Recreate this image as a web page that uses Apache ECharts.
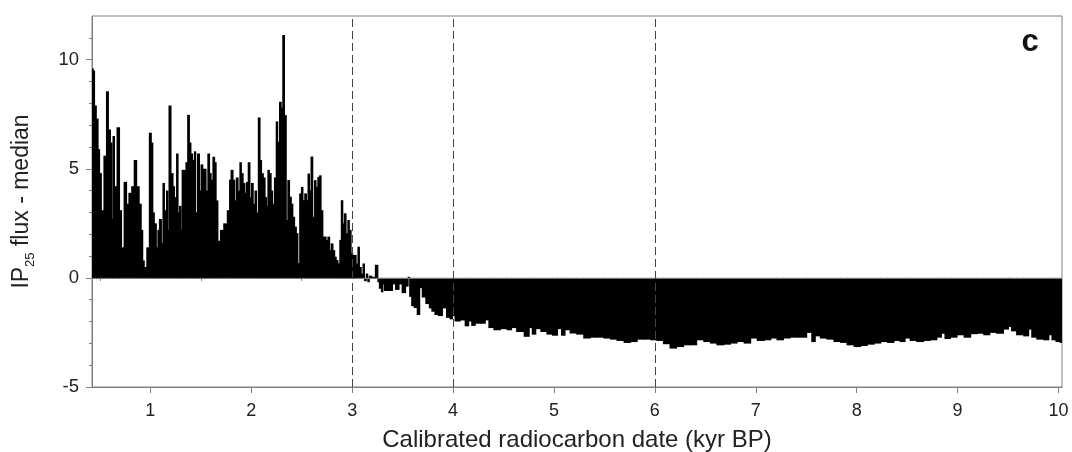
<!DOCTYPE html>
<html>
<head>
<meta charset="utf-8">
<script src="https://cdn.jsdelivr.net/npm/echarts@6/dist/echarts.min.js"></script>
<style>html,body{margin:0;padding:0;background:#fff;}#c{width:1072px;height:452px;}</style>
</head>
<body>
<div id="c"></div>
<script>
// Calibrated radiocarbon date (kyr BP)
const ages = [
0.425,0.43,0.44,0.455,0.475,0.49,0.505,0.525,0.555,0.575,0.595,0.615,0.625,0.635,0.655,0.685,0.705,0.725,0.755,0.775,
0.80,0.83,0.85,0.88,0.90,0.92,0.93,0.95,0.98,1.00,1.02,1.03,1.05,1.07,1.08,1.10,1.12,1.13,1.15,1.17,
1.18,1.19,1.22,1.23,1.25,1.27,1.28,1.30,1.31,1.32,1.345,1.36,1.38,1.395,1.41,1.43,1.445,1.455,1.48,1.495,
1.51,1.53,1.545,1.56,1.58,1.595,1.61,1.63,1.645,1.66,1.68,1.71,1.745,1.78,1.79,1.81,1.83,1.845,1.86,1.88,
1.895,1.91,1.93,1.945,1.96,1.98,1.995,2.01,2.03,2.045,2.06,2.08,2.095,2.11,2.13,2.145,2.16,2.17,2.19,2.205,
2.22,2.24,2.255,2.27,2.29,2.305,2.32,2.34,2.355,2.37,2.39,2.405,2.42,2.44,2.455,2.47,2.49,2.505,2.52,2.54,
2.555,2.57,2.585,2.60,2.62,2.635,2.65,2.67,2.685,2.70,2.72,2.735,2.75,2.77,2.785,2.80,2.82,2.835,2.85,2.87,
2.885,2.90,2.915,2.93,2.95,2.965,2.98,3.00,3.015,3.03,3.05,3.065,3.08,3.10,3.115,
3.13,3.15,3.16,3.18,3.21,3.25,3.26,3.28,3.30,3.31,3.33,3.36,3.39,3.41,3.45,3.48,3.51,3.55,3.56,3.58,
3.60,3.63,3.66,3.68,3.71,3.75,3.78,3.80,3.84,3.87,3.92,3.95,3.99,4.00,4.04,4.10,4.14,4.17,4.20,4.24,
4.30,4.34,4.37,4.44,4.50,4.57,4.59,4.67,4.74,4.77,4.80,4.84,4.90,4.96,5.01,5.06,5.09,5.13,5.19,5.26,
5.33,5.39,5.46,5.53,5.59,5.66,5.73,5.79,5.86,5.93,5.99,6.05,6.12,6.18,6.25,6.32,6.38,6.45,6.52,6.58,
6.65,6.72,6.78,6.85,6.92,6.98,7.05,7.12,7.18,7.24,7.31,7.37,7.47,7.54,7.57,7.61,7.67,7.74,7.81,7.87,
7.94,8.01,8.07,8.14,8.21,8.27,8.34,8.40,8.46,8.50,8.56,8.63,8.70,8.76,8.83,8.85,8.90,8.96,9.03,9.10,
9.16,9.23,9.29,9.35,9.42,9.49,9.52,9.55,9.62,9.69,9.72,9.75,9.82,9.89,9.92,9.95,10.00,10.03
];
// IP25 flux - median
const flux = [
8.9,9.6,9.5,7.9,7.3,5.9,4.8,3.1,5.6,8.55,6.8,6.2,2.7,6.5,4.2,6.9,3.1,1.4,4.4,3.4,
3.9,4.2,5.4,4.2,3.4,2.2,0.8,0.5,1.4,6.65,6.2,3.0,2.5,1.4,2.2,2.7,1.6,4.35,3.1,4.0,
2.2,7.9,4.8,4.2,3.7,5.7,3.0,3.3,2.2,4.95,4.95,5.3,7.47,6.2,5.7,5.4,5.8,3.0,5.7,4.0,
5.2,5.0,5.0,4.0,5.7,4.8,4.5,5.55,5.3,3.55,1.7,2.2,2.5,3.1,4.5,4.95,4.5,3.55,4.6,4.0,
5.3,4.8,4.35,3.9,4.4,5.3,3.7,4.35,3.4,4.0,3.0,7.35,5.4,4.8,4.6,3.7,3.3,4.95,4.8,4.0,
3.4,4.6,7.17,6.24,8.07,7.8,11.13,7.46,2.65,4.48,3.72,3.4,2.8,2.35,2.05,0.68,3.87,4.17,3.56,3.87,
3.56,4.78,4.0,5.56,2.8,4.48,4.17,4.63,4.7,3.1,1.89,1.89,1.74,1.89,1.27,1.58,1.27,0.97,0.82,0.66,
1.74,3.56,2.5,2.96,2.05,2.65,2.2,1.12,1.05,1.05,0.66,1.43,0.5,0.2,0.66,
-0.15,0.2,-0.2,0.1,0.05,0.6,-0.2,-0.5,-0.66,-0.3,-0.6,-0.6,-0.6,-0.3,-0.55,-0.3,-0.7,-0.4,0.05,-0.87,
-1.3,-1.38,-1.7,-0.47,-0.9,-1.2,-1.4,-1.55,-1.7,-1.75,-1.4,-1.83,-1.9,-1.75,-2.0,-1.95,-2.22,-2.0,-2.2,-2.1,
-2.1,-1.95,-2.3,-2.4,-2.35,-2.4,-2.3,-2.48,-2.7,-2.3,-2.6,-2.35,-2.48,-2.6,-2.65,-2.35,-2.65,-2.4,-2.55,-2.6,
-2.78,-2.74,-2.74,-2.78,-2.83,-2.89,-2.98,-2.94,-2.83,-2.83,-2.86,-2.89,-3.04,-3.24,-3.17,-3.09,-3.09,-2.86,-2.94,-3.01,
-3.09,-3.06,-3.01,-2.94,-3.01,-2.78,-2.89,-2.86,-2.78,-2.86,-2.78,-2.74,-2.74,-2.52,-2.94,-2.68,-2.78,-2.83,-2.94,-2.98,
-3.09,-3.17,-3.12,-3.06,-3.01,-2.94,-2.98,-2.89,-2.94,-2.78,-2.89,-2.94,-2.89,-2.86,-2.74,-2.56,-2.8,-2.74,-2.63,-2.74,
-2.58,-2.56,-2.63,-2.52,-2.56,-2.37,-2.25,-2.45,-2.63,-2.68,-2.37,-2.74,-2.83,-2.86,-2.63,-2.86,-2.94,-2.98
];
const xMajorTicks = [1,2,3,4,5,6,7,8,9,10];
const xMinorTicks = [0.5,1.5,2.5,3.5,4.5,5.5,6.5,7.5,8.5,9.5];
const yMajorTicks = [-5,0,5,10];
const yMinorTicks = [-4,-3,-2,-1,1,2,3,4,6,7,8,9,11];
const dashedDates = [3,4,6];

const FONT = 'Liberation Sans, Arial, sans-serif';
const AX = '#808080';
const X_MIN = 0.422, X_MAX = 10.035;
const chart = echarts.init(document.getElementById('c'), null, {renderer: 'canvas'});
const data = ages.map((a, i) => [a, flux[i]]);

function renderBar(params, api) {
  const i = params.dataIndex;
  const a = ages[i];
  const left = i === 0 ? X_MIN : (ages[i - 1] + a) / 2;
  const right = i === ages.length - 1 ? X_MAX : (ages[i + 1] + a) / 2;
  const p0 = api.coord([left, 0]);
  const p1 = api.coord([right, api.value(1)]);
  const x = Math.min(p0[0], p1[0]) - 0.5, y = Math.min(p0[1], p1[1]);
  const w = Math.abs(p1[0] - p0[0]) + 1, h = Math.abs(p1[1] - p0[1]);
  return {
    type: 'rect',
    shape: {x: x, y: y, width: w, height: h},
    style: {fill: '#000', stroke: null}
  };
}

chart.setOption({
  animation: false,
  backgroundColor: '#fff',
  grid: {left: 92, right: 10, top: 16, bottom: 65, show: true, borderColor: AX, borderWidth: 1,
         containLabel: false, outerBoundsMode: 'none'},
  xAxis: [{
    type: 'value', min: X_MIN, max: X_MAX,
    axisLine: {onZero: false, lineStyle: {color: AX}},
    axisTick: {show: true, length: 6, customValues: xMajorTicks, lineStyle: {color: AX}},
    axisLabel: {customValues: xMajorTicks, fontSize: 18, color: '#222', fontFamily: FONT, margin: 15},
    splitLine: {show: false},
    name: 'Calibrated radiocarbon date (kyr BP)', nameLocation: 'middle', nameGap: 41,
    nameTextStyle: {fontSize: 24, color: '#222', fontFamily: FONT}
  }, {
    type: 'value', min: X_MIN, max: X_MAX, position: 'bottom',
    axisLine: {show: false},
    axisTick: {show: true, length: 3, customValues: xMinorTicks, lineStyle: {color: AX}},
    axisLabel: {show: false}, splitLine: {show: false}
  }],
  yAxis: [{
    type: 'value', min: -5, max: 12, position: 'left',
    axisLine: {show: true, onZero: false, lineStyle: {color: AX}},
    axisTick: {show: true, length: 6, customValues: yMajorTicks, lineStyle: {color: AX}},
    axisLabel: {customValues: yMajorTicks, fontSize: 18.5, color: '#222', fontFamily: FONT, margin: 13},
    splitLine: {show: false},
    name: '{a|IP}{b|25}{a| flux - median}', nameLocation: 'middle', nameGap: 55,
    nameTextStyle: {color: '#222', fontFamily: FONT, rich: {
      a: {fontSize: 23, lineHeight: 30, verticalAlign: 'middle', color: '#222', fontFamily: FONT},
      b: {fontSize: 13, lineHeight: 17, verticalAlign: 'bottom', color: '#222', fontFamily: FONT}
    }}
  }, {
    type: 'value', min: -5, max: 12, position: 'left',
    axisLine: {show: false},
    axisTick: {show: true, length: 3, customValues: yMinorTicks, lineStyle: {color: AX}},
    axisLabel: {show: false}, splitLine: {show: false}
  }],
  series: [{
    type: 'custom', data: data, renderItem: renderBar,
    xAxisIndex: 0, yAxisIndex: 0, clip: true,
    encode: {x: 0, y: 1}
  }, {
    type: 'line', data: [], xAxisIndex: 0, yAxisIndex: 0, symbol: 'none',
    markLine: {
      silent: true, symbol: 'none', label: {show: false},
      data: [
        {yAxis: 0, lineStyle: {color: '#777', width: 1, type: 'solid'}},
        ...dashedDates.map(d => ({xAxis: d, lineStyle: {color: '#444', width: 1, type: [8, 4]}}))
      ]
    }
  }],
  graphic: [{
    type: 'text', x: 1030, y: 42,
    style: {text: 'c', font: 'bold 31px ' + FONT, fill: '#111', textAlign: 'center', textVerticalAlign: 'middle'}
  }]
});
</script>
</body>
</html>
